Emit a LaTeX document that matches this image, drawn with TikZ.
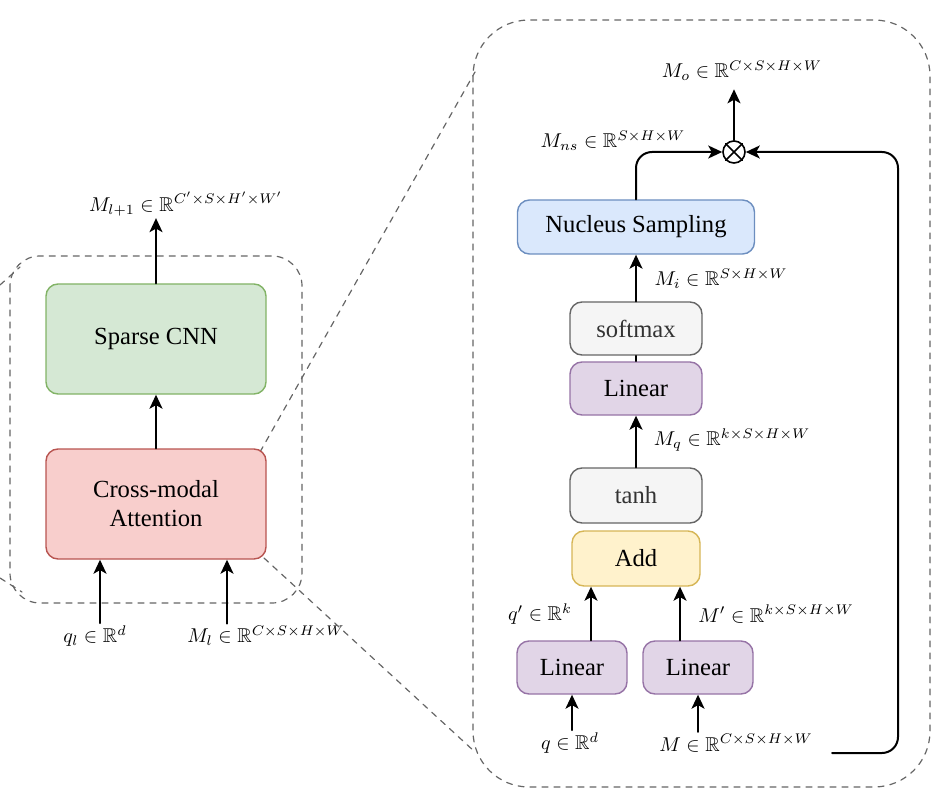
\documentclass[tikz,border=0pt]{standalone}
\usepackage{amsmath,amssymb}
\usepackage{fontspec}
\setmainfont{Liberation Serif}
\usetikzlibrary{arrows.meta}
\definecolor{grfill}{HTML}{D5E8D4}\definecolor{grline}{HTML}{82B366}
\definecolor{rdfill}{HTML}{F8CECC}\definecolor{rdline}{HTML}{B85450}
\definecolor{blfill}{HTML}{DAE8FC}\definecolor{blline}{HTML}{6C8EBF}
\definecolor{gyfill}{HTML}{F5F5F5}\definecolor{gyline}{HTML}{666666}
\definecolor{pufill}{HTML}{E1D5E7}\definecolor{puline}{HTML}{9673A6}
\definecolor{yefill}{HTML}{FFF2CC}\definecolor{yeline}{HTML}{D6B656}
\begin{document}
\begin{tikzpicture}[x=0.5pt, y=-0.5pt, line join=round, line cap=round,
    font=\fontsize{12.3}{14.5}\selectfont,
    arr/.style={line width=1pt, -{Stealth[length=7pt,width=6.5pt,inset=1.8pt]}},
    zoomline/.style={dashed, gray!80!black, line width=0.6pt},
    blk/.style={draw, rounded corners=6pt, line width=0.7pt, align=center, inner sep=0pt},
    bigblk/.style={blk, minimum width=110pt, minimum height=55pt},
    smallblk/.style={blk, minimum width=66pt, minimum height=26.5pt},
    linblk/.style={blk, fill=pufill, draw=puline, minimum width=55pt, minimum height=26.5pt},
    lab/.style={inner sep=1pt, font=\fontsize{10}{12}\selectfont}]
    \useasboundingbox (0,0) rectangle (952,812);
    % dashed groups and zoom lines
    \draw[zoomline, rounded corners=15pt] (10,256) rectangle (302,603);
    \draw[zoomline, rounded corners=28pt] (473,20) rectangle (930,787);
    \draw[zoomline] (260,452) -- (475,72);
    \draw[zoomline] (264,558) -- (475,752);
    \draw[zoomline] (0,285) -- (20,267);
    \draw[zoomline] (0,578) -- (22,592);
    % left part
    \node[bigblk, fill=grfill, draw=grline] (scnn) at (156,339) {Sparse CNN};
    \node[bigblk, fill=rdfill, draw=rdline] (cma) at (156,504) {Cross-modal\\Attention};
    \node[lab] (mnext) at (186,204) {$M_{l+1}\in\mathbb{R}^{C'\times S\times H'\times W'}$};
    \node[lab] (qllab) at (95,636) {$q_l\in\mathbb{R}^{d}$};
    \node[lab] (mllab) at (266,636) {$M_l\in\mathbb{R}^{C\times S\times H\times W}$};
    \draw[arr] (cma) -- (scnn);
    \draw[arr] (scnn.north) -- (scnn.north |- mnext.south);
    \draw[arr] ([xshift=-28pt]cma.south |- qllab.north) -- ([xshift=-28pt]cma.south);
    \draw[arr] ([xshift=35.5pt]cma.south |- mllab.north) -- ([xshift=35.5pt]cma.south);
    % right part
    \node[blk, fill=blfill, draw=blline, minimum width=118.5pt, minimum height=27pt] (ns) at (636,227) {Nucleus Sampling};
    \node[smallblk, fill=gyfill, draw=gyline, text=black!80] (smax) at (636,328.5) {softmax};
    \node[smallblk, fill=pufill, draw=puline] (lin3) at (636,388.5) {Linear};
    \node[smallblk, fill=gyfill, draw=gyline, text=black!80, minimum height=27.5pt] (tanh) at (636,495.5) {tanh};
    \node[smallblk, fill=yefill, draw=yeline, minimum width=64pt, minimum height=27.5pt] (add) at (636,558.5) {Add};
    \node[linblk] (lin1) at (572,667.5) {Linear};
    \node[linblk] (lin2) at (698,667.5) {Linear};
    \node[draw, circle, line width=0.8pt, minimum size=11pt, inner sep=0pt] (ox) at (734,152) {};
    \draw[line width=0.8pt] (ox.north west) -- (ox.south east) (ox.north east) -- (ox.south west);
    \node[lab] (molab) at (742,71) {$M_o\in\mathbb{R}^{C\times S\times H\times W}$};
    \node[lab] (mnslab) at (613,141) {$M_{ns}\in\mathbb{R}^{S\times H\times W}$};
    \node[lab] (milab) at (721,279) {$M_i\in\mathbb{R}^{S\times H\times W}$};
    \node[lab] (mqlab) at (732,440) {$M_q\in\mathbb{R}^{k\times S\times H\times W}$};
    \node[lab] (qplab) at (540,614) {$q'\in\mathbb{R}^{k}$};
    \node[lab] (mplab) at (776,614) {$M'\in\mathbb{R}^{k\times S\times H\times W}$};
    \node[lab] (qlab) at (570,743) {$q\in\mathbb{R}^{d}$};
    \node[lab] (mlab) at (736,743) {$M\in\mathbb{R}^{C\times S\times H\times W}$};
    \coordinate (fb) at (832,753);
    \draw[arr] (lin1.south |- qlab.north) -- (lin1.south);
    \draw[arr] (lin2.south |- mlab.north) -- (lin2.south);
    \draw[arr] ([xshift=9.5pt]lin1.north) -- ([xshift=9.5pt]lin1.north |- add.south);
    \draw[arr] ([xshift=-9pt]lin2.north) -- ([xshift=-9pt]lin2.north |- add.south);
    \draw[arr] (tanh) -- (lin3);
    \draw[arr] (smax) -- (ns);
    \draw[arr, rounded corners=8pt] (ns.north) -- (ns.north |- ox.west) -- (ox.west);
    \draw[arr, rounded corners=8pt] (fb) -- (898,753) -- (898,152) -- (ox.east);
    \draw[arr, shorten >=3pt] (ox.north) -- (ox.north |- molab.south);
    \draw[line width=0.7pt] (lin3) -- (smax);
\end{tikzpicture}
\end{document}
